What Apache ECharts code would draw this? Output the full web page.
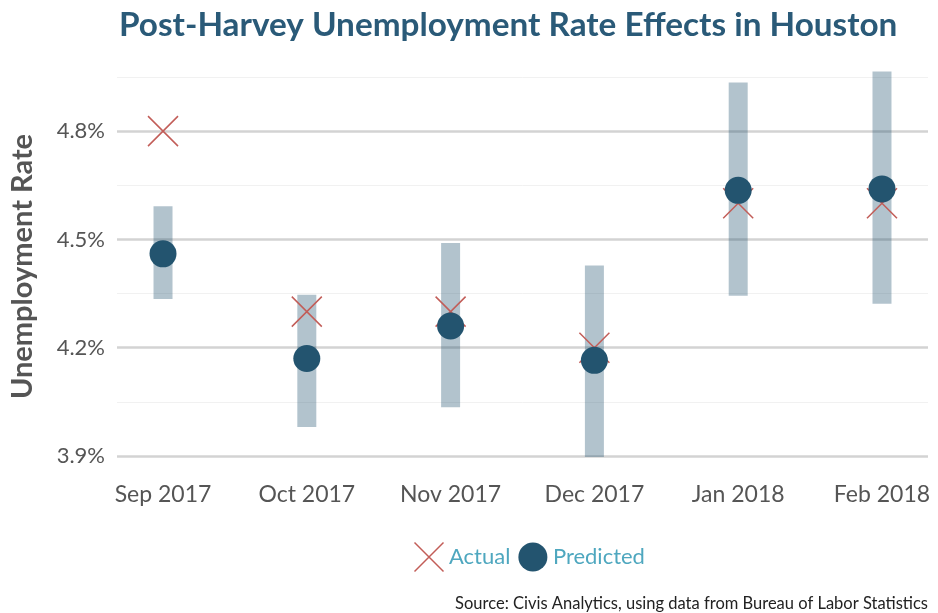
<!DOCTYPE html>
<html>
<head>
<meta charset="utf-8">
<script src="https://cdn.jsdelivr.net/npm/echarts@6/dist/echarts.min.js"></script>
<style>
html,body{margin:0;padding:0;background:#fff;}
#chart{width:938px;height:613px;}
</style>
</head>
<body>
<div id="chart"></div>
<script>
var categories = ['Sep 2017', 'Oct 2017', 'Nov 2017', 'Dec 2017', 'Jan 2018', 'Feb 2018'];
var actual = [4.80, 4.30, 4.30, 4.20, 4.60, 4.60];
var predicted = [4.46, 4.17, 4.26, 4.165, 4.636, 4.64];
var lower = [4.335, 3.98, 4.035, 3.897, 4.344, 4.322];
var upper = [4.592, 4.347, 4.49, 4.428, 4.935, 4.965];
var majorTicks = [3.9, 4.2, 4.5, 4.8];
var minorTicks = [4.05, 4.35, 4.65, 4.95];

var chart = echarts.init(document.getElementById('chart'));
var FONT = 'Lato';
var crossPath = 'path://M0,0L20,20M20,0L0,20';

var gridLines = [];
majorTicks.forEach(function (v) {
  gridLines.push({ yAxis: v, lineStyle: { color: '#d3d3d3', width: 2.5, type: 'solid' } });
});
minorTicks.forEach(function (v) {
  gridLines.push({ yAxis: v, lineStyle: { color: '#f1f1f1', width: 1, type: 'solid' } });
});

var option = {
  backgroundColor: '#ffffff',
  animation: false,
  title: {
    text: 'Post-Harvey Unemployment Rate Effects in Houston',
    left: 114,
    top: 4,
    textStyle: { fontFamily: FONT, fontWeight: 'bold', fontSize: 33.3, color: '#2a5a78' }
  },
  grid: { left: 117, right: 10, top: 77, bottom: 157 },
  legend: {
    top: 535,
    left: 407,
    itemWidth: 30,
    itemHeight: 29,
    itemGap: 8,
    textStyle: { fontFamily: FONT, fontSize: 22, color: '#4ea7bf' },
    data: [
      { name: 'Actual', icon: crossPath, itemStyle: { color: 'none', borderColor: '#c25d58', borderWidth: 1.5 } },
      { name: 'Predicted', icon: 'circle', itemStyle: { color: '#23546f' } }
    ]
  },
  xAxis: {
    type: 'value',
    min: 0.68,
    max: 6.32,
    axisLine: { show: false },
    axisTick: { show: false },
    splitLine: { show: false },
    axisLabel: {
      customValues: [1, 2, 3, 4, 5, 6],
      formatter: function (v) { return categories[Math.round(v) - 1]; },
      margin: 27,
      fontFamily: FONT,
      fontSize: 23,
      color: '#555555'
    }
  },
  yAxis: {
    type: 'value',
    min: 3.9,
    max: 4.95,
    name: 'Unemployment Rate',
    nameLocation: 'middle',
    nameGap: 80,
    nameTextStyle: { fontFamily: FONT, fontSize: 29, color: '#555555', fontWeight: 'bold' },
    axisLine: { show: false },
    axisTick: { show: false },
    splitLine: { show: false },
    axisLabel: {
      customValues: majorTicks,
      formatter: function (v) { return v.toFixed(1) + '%'; },
      margin: 12,
      fontFamily: FONT,
      fontSize: 22,
      color: '#555555'
    }
  },
  series: [
    {
      name: 'grid',
      type: 'line',
      data: [],
      silent: true,
      z: 1,
      markLine: { silent: true, symbol: 'none', z: 1, label: { show: false }, data: gridLines }
    },
    {
      name: 'Interval',
      type: 'custom',
      z: 2,
      clip: false,
      data: categories.map(function (c, i) { return [i + 1, lower[i], upper[i]]; }),
      renderItem: function (params, api) {
        var x = api.value(0);
        var p1 = api.coord([x, api.value(2)]);
        var p2 = api.coord([x, api.value(1)]);
        var w = 19;
        return {
          type: 'rect',
          shape: { x: p1[0] - w / 2, y: p1[1], width: w, height: p2[1] - p1[1] },
          style: { fill: 'rgba(35,84,111,0.35)' }
        };
      }
    },
    {
      name: 'Actual',
      type: 'scatter',
      z: 3,
      symbol: crossPath,
      symbolSize: 30,
      itemStyle: { color: 'none', borderColor: '#c25d58', borderWidth: 1.5, opacity: 1 },
      data: categories.map(function (c, i) { return [i + 1, actual[i]]; })
    },
    {
      name: 'Predicted',
      type: 'scatter',
      z: 4,
      symbol: 'circle',
      symbolSize: 27,
      itemStyle: { color: '#23546f', opacity: 1 },
      data: categories.map(function (c, i) { return [i + 1, predicted[i]]; })
    }
  ],
  graphic: [
    {
      type: 'text',
      right: 10,
      bottom: 1,
      style: {
        text: 'Source: Civis Analytics, using data from Bureau of Labor Statistics',
        font: '16.5px Lato',
        fill: '#222222'
      }
    }
  ]
};
chart.setOption(option);
</script>
</body>
</html>
